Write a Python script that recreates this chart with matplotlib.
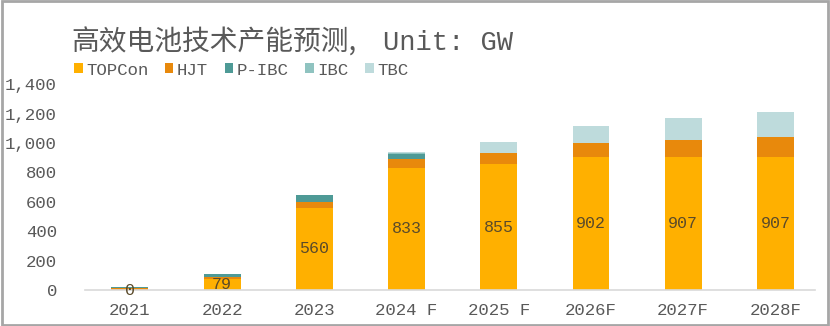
import matplotlib
matplotlib.use("Agg")
import matplotlib.pyplot as plt
from matplotlib.patches import Rectangle
import numpy as np

categories = ["2021", "2022", "2023", "2024 F", "2025 F", "2026F", "2027F", "2028F"]
topcon = [0, 79, 560, 833, 855, 902, 907, 907]
hjt = [12, 12, 38, 55, 78, 96, 114, 132]
pibc = [8, 22, 47, 35, 0, 0, 0, 0]
ibc = [0, 0, 0, 10, 0, 0, 0, 0]
tbc = [0, 0, 0, 8, 72, 118, 147, 174]
series_names = ["TOPCon", "HJT", "P-IBC", "IBC", "TBC"]
colors = ["#FFB000", "#E8890C", "#4E9A96", "#8FC3C0", "#BEDBDC"]
yticks = [0, 200, 400, 600, 800, 1000, 1200, 1400]

mono = ["Liberation Mono", "DejaVu Sans Mono"]
title_fam = ["Noto Sans CJK SC", "DejaVu Sans"]
grey = "#595959"

fig = plt.figure(figsize=(8.3, 3.26), dpi=100)
ax = fig.add_axes([0.102, 0.110, 0.880, 0.632])

x = np.arange(len(categories))
bottom = np.zeros(len(categories))
series = [topcon, hjt, pibc, ibc, tbc]
handles = []
for name, vals, c in zip(series_names, series, colors):
    vals = np.array(vals, dtype=float)
    b = ax.bar(x, vals, 0.4, bottom=bottom, color=c, label=name, linewidth=0)
    handles.append(b)
    bottom += vals

for xi, v in zip(x, topcon):
    ax.text(xi, v / 2, f"{v}", ha="center", va="center", fontsize=12,
            family=mono, color="#5a4a2a")

ax.set_xlim(-0.49, 7.43)
ax.set_ylim(0, 1400)
ax.set_xticks(x)
ax.set_xticklabels(categories, family=mono, fontsize=12.5, color=grey)
ax.set_yticks(yticks)
ax.set_yticklabels([f"{v:,}" for v in yticks], family=mono, fontsize=12.5, color=grey)
ax.tick_params(length=0)
ax.tick_params(axis="x", pad=9)
ax.tick_params(axis="y", pad=20)
for s in ["top", "right", "left"]:
    ax.spines[s].set_visible(False)
ax.spines["bottom"].set_color("#d9d9d9")
ax.spines["bottom"].set_linewidth(1.2)

fig.text(0.086, 0.868, "高效电池技术产能预测,", family=title_fam, fontsize=20,
         color=grey, va="center", ha="left")
fig.text(0.461, 0.868, "Unit: GW", family=mono, fontsize=19.5,
         color=grey, va="center", ha="left")

leg = fig.legend(handles=handles, labels=series_names, loc="center left",
                 bbox_to_anchor=(0.089, 0.785), ncol=5, frameon=False,
                 prop={"family": mono, "size": 12.5}, handlelength=0.5,
                 handleheight=0.5, handletextpad=0.2, columnspacing=0.95,
                 borderaxespad=0, borderpad=0, labelcolor=grey)

fig.patches.append(Rectangle((0.002, 0.003), 0.996, 0.994, transform=fig.transFigure,
                             fill=False, edgecolor="#a6a6a6", linewidth=2))

fig.savefig("out.png", dpi=100)
